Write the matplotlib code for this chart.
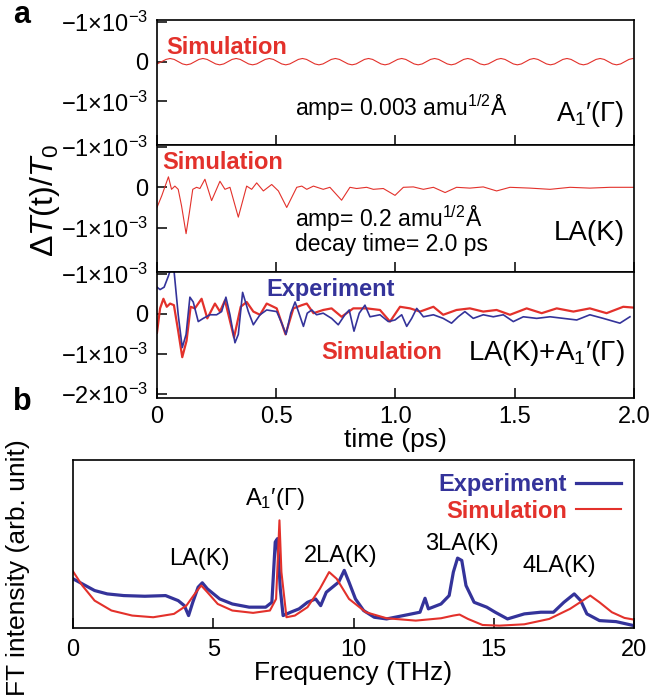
import matplotlib
matplotlib.use("Agg")
import matplotlib.pyplot as plt
import numpy as np

plt.rcParams['font.family'] = ['Liberation Sans', 'DejaVu Sans']
plt.rcParams['mathtext.fontset'] = 'custom'
plt.rcParams['mathtext.rm'] = 'Liberation Sans'
plt.rcParams['mathtext.it'] = 'Liberation Sans:italic'
plt.rcParams['mathtext.bf'] = 'Liberation Sans:bold'

RED = '#e3312b'
BLUE = '#34339a'

# ---- panel a, top: A1'(Gamma) simulation (values in units of 1e-3) ----
a1_t = [0.0, 0.038, 0.055, 0.072, 0.107, 0.124, 0.141, 0.176, 0.193, 0.210,
        0.246, 0.263, 0.280, 0.315, 0.332, 0.349, 0.384, 0.401, 0.418, 0.454,
        0.471, 0.488, 0.523, 0.540, 0.557, 0.593, 0.610, 0.627, 0.662, 0.679,
        0.696, 0.731, 0.748, 0.765, 0.801, 0.818, 0.835, 0.870, 0.887, 0.904,
        0.939, 0.956, 0.973, 1.009, 1.026, 1.043, 1.078, 1.095, 1.112, 1.147,
        1.164, 1.181, 1.217, 1.234, 1.251, 1.286, 1.303, 1.320, 1.355, 1.372,
        1.389, 1.425, 1.442, 1.459, 1.494, 1.511, 1.528, 1.563, 1.580, 1.597,
        1.633, 1.650, 1.667, 1.702, 1.719, 1.736, 1.771, 1.788, 1.805, 1.841,
        1.858, 1.875, 1.910, 1.927, 1.944, 1.979, 1.996]
a1_v = [0.06, -0.057, -0.08, -0.057, 0.057, 0.08, 0.057, -0.057, -0.08, -0.057,
        0.057, 0.08, 0.057, -0.057, -0.08, -0.057, 0.057, 0.08, 0.057, -0.057,
        -0.08, -0.057, 0.057, 0.08, 0.057, -0.057, -0.08, -0.057, 0.057, 0.08,
        0.057, -0.057, -0.08, -0.057, 0.057, 0.08, 0.057, -0.057, -0.08, -0.057,
        0.057, 0.08, 0.057, -0.057, -0.08, -0.057, 0.057, 0.08, 0.057, -0.057,
        -0.08, -0.057, 0.057, 0.08, 0.057, -0.057, -0.08, -0.057, 0.057, 0.08,
        0.057, -0.057, -0.08, -0.057, 0.057, 0.08, 0.057, -0.057, -0.08, -0.057,
        0.057, 0.08, 0.057, -0.057, -0.08, -0.057, 0.057, 0.08, 0.057, -0.057,
        -0.08, -0.057, 0.057, 0.08, 0.057, -0.057, -0.08]

# ---- panel a, middle: LA(K) simulation ----
la_t = [0.0, 0.02, 0.048, 0.061, 0.075, 0.089, 0.103, 0.122, 0.136, 0.15,
        0.166, 0.18, 0.201, 0.229, 0.264, 0.285, 0.306, 0.341, 0.376, 0.397,
        0.418, 0.446, 0.481, 0.509, 0.544, 0.586, 0.607, 0.628, 0.656, 0.697,
        0.725, 0.774, 0.809, 0.837, 0.879, 0.907, 0.949, 0.998, 1.033, 1.075,
        1.117, 1.159, 1.208, 1.256, 1.312, 1.368, 1.424, 1.48, 1.564, 1.648,
        1.732, 1.815, 1.899, 2.0]
la_v = [0.50, 0.21, -0.26, 0.05, -0.03, 0.05, 0.46, 1.15, 0.62, 0.05,
        0.0, 0.03, -0.20, 0.33, -0.15, 0.05, 0.0, 0.74, -0.03, 0.05,
        -0.11, 0.09, -0.07, 0.09, 0.50, 0.0, -0.03, 0.05, -0.03, 0.05,
        0.0, 0.32, 0.0, 0.03, 0.0, 0.05, 0.03, 0.20, 0.0, -0.01,
        0.05, 0.0, 0.13, 0.0, 0.02, -0.01, 0.09, 0.0, 0.02, 0.05,
        0.0, 0.02, 0.0, 0.0]

# ---- panel a, bottom: LA(K)+A1'(Gamma) ----
sim_t = [0.0, 0.013, 0.027, 0.041, 0.055, 0.071, 0.089, 0.106, 0.124, 0.141,
         0.159, 0.187, 0.211, 0.243, 0.264, 0.285, 0.323, 0.351, 0.376, 0.404,
         0.432, 0.46, 0.502, 0.539, 0.572, 0.607, 0.628, 0.656, 0.697, 0.732,
         0.774, 0.823, 0.879, 0.935, 0.977, 1.019, 1.061, 1.103, 1.159, 1.2,
         1.256, 1.312, 1.368, 1.424, 1.48, 1.55, 1.613, 1.676, 1.746, 1.815,
         1.885, 1.955, 1.997]
sim_v = [0.47, -0.14, -0.38, -0.18, -0.26, -0.22, 0.43, 1.08, 0.67, -0.18,
         -0.14, -0.38, 0.11, -0.26, -0.06, -0.34, 0.59, -0.18, -0.30, -0.06,
         0.02, -0.26, -0.14, 0.51, -0.14, -0.22, -0.26, -0.02, -0.10, -0.14,
         0.07, -0.14, -0.14, -0.10, 0.19, -0.18, -0.14, -0.06, -0.18, 0.02,
         -0.10, -0.14, -0.06, -0.10, 0.02, -0.14, -0.02, -0.14, -0.06, -0.14,
         -0.02, -0.18, -0.16]

exp_t = [0.0, 0.013, 0.03, 0.048, 0.061, 0.071, 0.089, 0.106, 0.122, 0.138,
         0.152, 0.173, 0.194, 0.222, 0.25, 0.271, 0.289, 0.306, 0.327, 0.341,
         0.359, 0.383, 0.404, 0.432, 0.46, 0.502, 0.523, 0.541, 0.561, 0.579,
         0.593, 0.614, 0.63, 0.649, 0.669, 0.697, 0.732, 0.76, 0.788, 0.806,
         0.826, 0.848, 0.872, 0.893, 0.935, 0.97, 0.998, 1.026, 1.047, 1.068,
         1.089, 1.117, 1.159, 1.2, 1.235, 1.263, 1.291, 1.326, 1.368, 1.41,
         1.452, 1.494, 1.536, 1.592, 1.648, 1.704, 1.76, 1.815, 1.871, 1.941,
         1.983]
exp_v = [-0.67, -0.61, -0.67, -0.95, -1.2, -1.11, 0.02, 0.84, 0.51, -0.42,
         -0.30, 0.19, 0.11, 0.02, 0.02, -0.06, -0.42, 0.02, 0.72, 0.51,
         -0.54, -0.06, 0.27, 0.02, -0.10, -0.06, 0.23, 0.51, -0.02, -0.30,
         -0.06, 0.31, -0.02, -0.10, 0.02, -0.02, 0.11, 0.27, 0.02, -0.10,
         0.43, -0.02, -0.22, 0.07, 0.02, 0.19, 0.15, 0.02, 0.31, 0.11,
         -0.14, 0.07, 0.02, 0.11, 0.23, 0.07, -0.06, 0.11, 0.02, 0.07,
         0.02, 0.19, 0.07, 0.11, 0.07, 0.11, 0.15, 0.02, 0.11, 0.23,
         0.07]

# ---- panel b: FT spectra (arb. unit) ----
ft_exp_f = [0.0, 0.33, 0.77, 1.22, 1.81, 2.56, 3.30, 3.75, 3.97, 4.12,
            4.27, 4.46, 4.61, 4.79, 5.23, 5.68, 6.28, 6.87, 7.09, 7.21,
            7.29, 7.39, 7.49, 7.76, 8.06, 8.36, 8.65, 8.83, 9.03, 9.25,
            9.47, 9.67, 9.84, 10.07, 10.36, 10.74, 11.18, 11.78, 12.37, 12.55,
            12.67, 13.12, 13.41, 13.56, 13.71, 13.86, 14.01, 14.30, 14.75, 15.05,
            15.49, 16.09, 16.68, 17.13, 17.50, 17.87, 18.10, 18.32, 18.77, 19.36,
            20.0]
ft_exp_v = [0.293, 0.263, 0.223, 0.203, 0.193, 0.189, 0.193, 0.163, 0.133, 0.074,
            0.153, 0.243, 0.269, 0.233, 0.173, 0.143, 0.124, 0.124, 0.153, 0.512,
            0.532, 0.233, 0.074, 0.094, 0.114, 0.153, 0.173, 0.133, 0.213, 0.243,
            0.273, 0.343, 0.273, 0.173, 0.104, 0.064, 0.054, 0.074, 0.094, 0.177,
            0.114, 0.143, 0.193, 0.333, 0.416, 0.402, 0.253, 0.153, 0.124, 0.094,
            0.054, 0.084, 0.094, 0.094, 0.153, 0.203, 0.163, 0.084, 0.044, 0.038,
            0.014]

ft_sim_f = [0.0, 0.33, 0.77, 1.37, 2.11, 2.86, 3.60, 4.04, 4.34, 4.57,
            4.79, 5.16, 5.68, 6.42, 7.02, 7.24, 7.36, 7.43, 7.61, 7.91,
            8.36, 8.80, 9.13, 9.40, 9.84, 10.44, 11.18, 12.22, 13.12, 13.56,
            13.78, 14.08, 14.60, 15.20, 16.09, 16.98, 17.72, 18.17, 18.44, 18.77,
            19.21, 19.66, 20.0]
ft_sim_v = [0.337, 0.253, 0.163, 0.104, 0.074, 0.064, 0.084, 0.133, 0.203, 0.253,
            0.213, 0.143, 0.104, 0.090, 0.104, 0.173, 0.641, 0.333, 0.064, 0.074,
            0.124, 0.233, 0.333, 0.293, 0.173, 0.094, 0.058, 0.044, 0.058, 0.074,
            0.080, 0.054, 0.018, 0.014, 0.022, 0.054, 0.114, 0.163, 0.193, 0.153,
            0.094, 0.060, 0.050]

peak_names = ['LA(K)', 'A$_1$′(Γ)', '2LA(K)', '3LA(K)', '4LA(K)']
peak_f = [4.5, 7.2, 9.55, 13.85, 17.35]
peak_h = [0.41, 0.77, 0.43, 0.50, 0.37]

fig = plt.figure(figsize=(6.53, 6.97), dpi=100)

W = 0.7305
ax1 = fig.add_axes([0.2404, 0.792, W, 0.1793])
ax2 = fig.add_axes([0.2404, 0.6098, W, 0.1822])
ax3 = fig.add_axes([0.2404, 0.429, W, 0.1808])
axb = fig.add_axes([0.1118, 0.099, 0.8591, 0.241])

s = 1e-3
ax1.plot(np.array(a1_t), np.array(a1_v) * s, color=RED, lw=0.8)
ax2.plot(np.array(la_t), np.array(la_v) * s, color=RED, lw=0.8)
ax3.plot(np.array(sim_t), np.array(sim_v) * s, color=RED, lw=1.6)
ax3.plot(np.array(exp_t), np.array(exp_v) * s, color=BLUE, lw=1.2)

ylab = '−1×10$^{-3}$'
for ax in (ax1, ax2, ax3):
    ax.set_xlim(0, 2.0)
    ax.set_ylim(2.1e-3, -1.05e-3)
    ax.set_xticks([0, 0.5, 1.0, 1.5, 2.0])
    ax.tick_params(direction='in', length=7, width=1.1, labelsize=17,
                   right=False, top=False)
    ax.tick_params(axis='y', pad=6)
    ax.tick_params(axis='x', pad=6)
    for sp in ax.spines.values():
        sp.set_linewidth(1.2)
    ax.set_yticks([-1e-3, 0, 1e-3])
    ax.set_yticklabels([ylab, '0', ylab])
for ax in (ax1, ax2):
    ax.tick_params(labelbottom=False)
ax3.set_yticks([-1e-3, 0, 1e-3, 2e-3])
ax3.set_yticklabels([ylab, '0', ylab, '−2×10$^{-3}$'])
ax3.set_xticklabels(['0', '0.5', '1.0', '1.5', '2.0'])
ax3.set_xlabel('time (ps)', fontsize=19, labelpad=0)

# panel a texts
ax1.text(0.02, 0.78, 'Simulation', transform=ax1.transAxes, color=RED,
         fontsize=17, fontweight='bold', va='center')
ax1.text(0.29, 0.30, r'amp= 0.003 amu$^{1/2}$Å', transform=ax1.transAxes,
         fontsize=16.5, va='center')
ax1.text(0.98, 0.25, 'A$_1$′(Γ)', transform=ax1.transAxes, fontsize=19.5,
         ha='right', va='center')

ax2.text(0.012, 0.86, 'Simulation', transform=ax2.transAxes, color=RED,
         fontsize=17, fontweight='bold', va='center')
ax2.text(0.29, 0.42, r'amp= 0.2 amu$^{1/2}$Å', transform=ax2.transAxes,
         fontsize=16.5, va='center')
ax2.text(0.29, 0.22, 'decay time= 2.0 ps', transform=ax2.transAxes,
         fontsize=16.5, va='center')
ax2.text(0.98, 0.31, 'LA(K)', transform=ax2.transAxes, fontsize=20,
         ha='right', va='center')

ax3.text(0.23, 0.86, 'Experiment', transform=ax3.transAxes, color=BLUE,
         fontsize=17, fontweight='bold', va='center')
ax3.text(0.345, 0.36, 'Simulation', transform=ax3.transAxes, color=RED,
         fontsize=17, fontweight='bold', va='center')
ax3.text(0.98, 0.36, 'LA(K)+A$_1$′(Γ)', transform=ax3.transAxes, fontsize=20,
         ha='right', va='center')

fig.text(0.069, 0.712, r'$\Delta\mathit{T}$(t)/$\mathit{T}_0$', rotation=90,
         fontsize=23, ha='center', va='center')
fig.text(0.02, 0.978, 'a', fontsize=22, fontweight='bold', va='center')
fig.text(0.02, 0.423, 'b', fontsize=22, fontweight='bold', va='center')

# panel b
axb.plot(ft_exp_f, ft_exp_v, color=BLUE, lw=2.3, label='Experiment')
axb.plot(ft_sim_f, ft_sim_v, color=RED, lw=1.5, label='Simulation')
axb.set_xlim(0, 20)
axb.set_ylim(0, 1)
axb.set_xticks([0, 5, 10, 15, 20])
axb.set_yticks([])
axb.tick_params(direction='in', length=7, width=1.1, labelsize=17, pad=8)
for sp in axb.spines.values():
    sp.set_linewidth(1.2)
axb.set_xlabel('Frequency (THz)', fontsize=19, labelpad=0)
fig.text(0.028, 0.185, 'FT intensity (arb. unit)', rotation=90,
         fontsize=19, ha='center', va='center')
axb.legend(loc='upper right', frameon=False, markerfirst=False, labelcolor='linecolor',
           prop={'weight': 'bold', 'size': 17}, handlelength=1.9,
           handletextpad=0.4, borderaxespad=0.15, labelspacing=0.15)

for name, f, h in zip(peak_names, peak_f, peak_h):
    axb.text(f, h, name, fontsize=17, ha='center', va='center')

fig.savefig('out.png', dpi=100)
